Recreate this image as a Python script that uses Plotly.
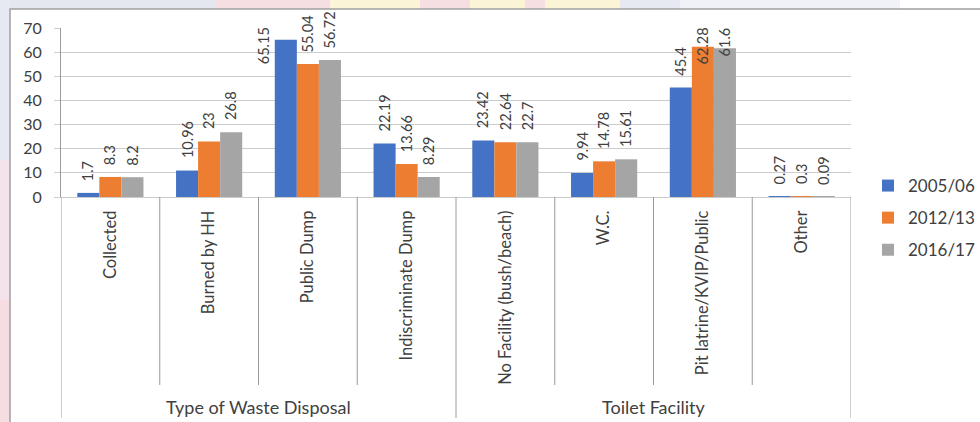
import plotly.graph_objects as go

# ---- data -------------------------------------------------------------
categories = [
    "Collected", "Burned by HH", "Public Dump", "Indiscriminate Dump",
    "No Facility (bush/beach)", "W.C.", "Pit latrine/KVIP/Public", "Other",
]
groups = ["Type of Waste Disposal"] * 4 + ["Toilet Facility"] * 4
series_names = ["2005/06", "2012/13", "2016/17"]
values_2005_06 = [1.7, 10.96, 65.15, 22.19, 23.42, 9.94, 45.4, 0.27]
values_2012_13 = [8.3, 23, 55.04, 13.66, 22.64, 14.78, 62.28, 0.3]
values_2016_17 = [8.2, 26.8, 56.72, 8.29, 22.7, 15.61, 61.6, 0.09]
y_ticks = [0, 10, 20, 30, 40, 50, 60, 70]

series_colors = ["#4472C4", "#ED7D31", "#A5A5A5"]
series_values = [values_2005_06, values_2012_13, values_2016_17]

# ---- layout geometry ----------------------------------------------------
W, H = 980, 422
L, R, T, B = 61, 851, 28, 197          # plot area edges (px)
FONT = "Lato, 'Open Sans', sans-serif"
TXT = "#404040"
GRID = "#cccccc"
DIV = "#9a9a9a"
BARGAP = 0.33
LABEL_SIZE = 14.5
LABEL_TOP = 15                          # where pinned value labels start (px)


def px_x(px):
    return (px - L) / (R - L)


def px_y(py):
    return (B - py) / (B - T)


n_series = len(series_names)
bar_w = (1 - BARGAP) / n_series                 # in category units
cat_px = (R - L) / len(categories)
px_per_unit = (B - T) / y_ticks[-1]

fig = go.Figure()
for name, vals, col in zip(series_names, series_values, series_colors):
    fig.add_trace(go.Bar(
        x=categories, y=vals, name=name, legendgroup=name,
        marker=dict(color=col, line=dict(width=0)),
    ))

# ---- vertical value labels (kept inside the chart area) -----------------
char_w = {".": 0.25, "/": 0.4}
annotations = []
for j, vals in enumerate(series_values):
    offset = (j - (n_series - 1) / 2) * bar_w
    for i, v in enumerate(vals):
        txt = f"{v:g}"
        est_len = sum(char_w.get(ch, 0.65) for ch in txt) * LABEL_SIZE + 2
        bar_top = B - v * px_per_unit
        natural_top = bar_top - 11 - est_len
        ann = dict(x=i + offset, xref="x", text=txt, showarrow=False,
                   textangle=-90,
                   font=dict(family=FONT, size=LABEL_SIZE, color=TXT))
        if natural_top >= 4:
            ann.update(y=v, yref="y", yanchor="bottom", yshift=10)
        else:
            # pin the label just below the top of the chart area
            ann.update(y=1, yref="paper", yanchor="top",
                       yshift=T - LABEL_TOP - 10)
            if (LABEL_TOP + est_len) - bar_top > 12:
                ann["xshift"] = -bar_w * cat_px
        annotations.append(ann)

# ---- group labels -------------------------------------------------------
for g in dict.fromkeys(groups):
    idx = [k for k, gg in enumerate(groups) if gg == g]
    annotations.append(dict(
        x=sum(idx) / len(idx), xref="x", y=px_y(407), yref="paper",
        text=g, showarrow=False, yanchor="middle",
        font=dict(family=FONT, size=18, color=TXT)))

# ---- category / group divider lines and chart frame ---------------------
shapes = []
group_edges = [0] + [k for k in range(1, len(groups)) if groups[k] != groups[k - 1]] + [len(groups)]
for k in range(len(categories) + 1):
    bottom = 418 if k in group_edges else 385
    shapes.append(dict(type="line", xref="x", yref="paper",
                       x0=k - 0.5, x1=k - 0.5, y0=0, y1=px_y(bottom),
                       line=dict(color=DIV, width=1)))

# faint backdrop strips outside the chart frame
backdrop = [
    (0, 215, "#e4e6f0"), (215, 330, "#f6dfe3"), (330, 420, "#fcf4d6"),
    (420, 470, "#f6dfe3"), (470, 525, "#fcf4d6"), (525, 545, "#f6dfe3"),
    (545, 620, "#fcf4d6"), (620, 680, "#e6e8f2"), (680, 900, "#f1f2f7"),
]
for a, b, c in backdrop:
    shapes.append(dict(type="rect", xref="paper", yref="paper", layer="below",
                       x0=px_x(a), x1=px_x(b), y0=px_y(9), y1=px_y(0),
                       line=dict(width=0), fillcolor=c))
for a, b, c in [(0, 160, "#e6e8f2"), (160, 300, "#f4e3ea"), (300, 422, "#f6dde1")]:
    shapes.append(dict(type="rect", xref="paper", yref="paper", layer="below",
                       x0=px_x(0), x1=px_x(10), y0=px_y(b), y1=px_y(a),
                       line=dict(width=0), fillcolor=c))
shapes.append(dict(type="rect", xref="paper", yref="paper", layer="below",
                   x0=px_x(10), x1=px_x(990), y0=px_y(430), y1=px_y(9),
                   line=dict(color="#a0a0a0", width=1.5), fillcolor="white"))

fig.update_layout(
    width=W, height=H,
    margin=dict(l=L, r=W - R, t=T, b=H - B, pad=0, autoexpand=False),
    paper_bgcolor="white", plot_bgcolor="white",
    barmode="group", bargap=BARGAP, bargroupgap=0,
    font=dict(family=FONT, size=16, color=TXT),
    showlegend=True,
    legend=dict(x=px_x(868), xanchor="left", y=px_y(168), yanchor="top",
                font=dict(family=FONT, size=17, color=TXT),
                tracegroupgap=7, bgcolor="rgba(0,0,0,0)"),
    xaxis=dict(type="category", range=[-0.5, len(categories) - 0.5],
               tickangle=-90, showgrid=False, showline=True,
               linecolor=GRID, linewidth=1, ticks="",
               tickfont=dict(family=FONT, size=16.5, color=TXT),
               ticklabelstandoff=6),
    yaxis=dict(range=[0, y_ticks[-1]], tickvals=y_ticks, showgrid=True,
               gridcolor=GRID, gridwidth=1, zeroline=False,
               showline=True, linecolor=DIV, linewidth=1,
               ticks="outside", ticklen=6, tickcolor=GRID,
               tickfont=dict(family=FONT, size=16, color=TXT),
               ticklabelstandoff=9),
    annotations=annotations, shapes=shapes,
)

fig.write_html("out.html")
